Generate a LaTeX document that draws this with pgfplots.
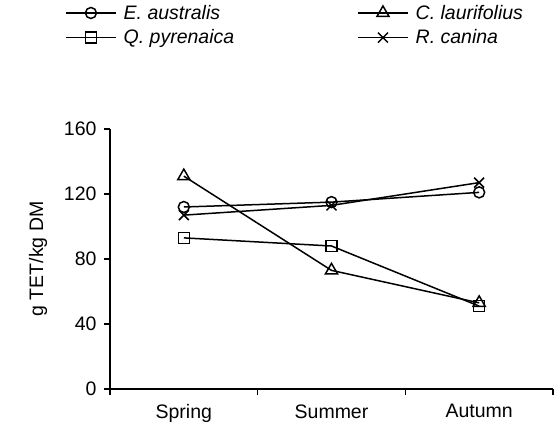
\documentclass[border=0pt]{standalone}
\usepackage{fontspec}
\setmainfont{Liberation Sans}
\usepackage{pgfplots}
\pgfplotsset{compat=1.18}
\begin{document}
\begin{tikzpicture}
\useasboundingbox (-110bp,-47bp) rectangle (448bp,389bp);
\begin{axis}[
  at={(0,0)}, anchor=origin,
  scale only axis, width=443bp, height=260bp,
  xmin=0, xmax=3, ymin=0, ymax=160,
  axis x line*=bottom, axis y line*=left,
  axis line style={line width=1.5bp, -},
  every tick/.style={line width=1.5bp, black},
  ytick={0,40,80,120,160},
  tick align=outside,
  major tick length=6bp,
  xtick={0,1,2,3},
  x tick label as interval,
  xticklabels={Spring,Summer,Autumn},
  font=\fontsize{19.5bp}{22bp}\selectfont,
  tick label style={font=\fontsize{19.5bp}{22bp}\selectfont},
  /pgf/number format/assume math mode=true,
  ylabel={g TET/kg DM},
  ylabel style={font=\fontsize{19.5bp}{22bp}\selectfont},
  every axis y label/.style={at={(-72bp,130bp)}, rotate=90, anchor=center},
  xticklabel style={yshift=-6bp},
  yticklabel style={xshift=-4bp},
  legend columns=2,
  legend style={draw=none, fill=none, at={(-48bp,388bp)}, anchor=north west,
    font=\fontsize{19.5bp}{22bp}\selectfont\itshape,
    /tikz/every odd column/.append style={column sep=5bp},
    /tikz/every even column/.append style={column sep=121bp},
    row sep=5bp},
  legend cell align=left,
  legend image code/.code={
    \draw[#1, mark repeat=2, mark phase=2] plot coordinates {(0bp,0bp) (25bp,0bp) (50bp,0bp)};
  },
]
\addplot[black, line width=1.5bp, mark=o, mark size=5.5bp, mark options={solid, fill=white, line width=1.5bp}] coordinates {(0.5,112) (1.5,115) (2.5,121)};
\addlegendentry{E. australis}
\addplot[black, line width=1.5bp, mark=triangle, mark size=7bp, mark options={solid, fill=white, line width=1.5bp}] coordinates {(0.5,131) (1.5,73) (2.5,53)};
\addlegendentry{C. laurifolius}
\addplot[black, line width=1.5bp, mark=square, mark size=5.5bp, mark options={solid, fill=white, line width=1.5bp}] coordinates {(0.5,93) (1.5,88) (2.5,51)};
\addlegendentry{Q. pyrenaica}
\addplot[black, line width=1.5bp, mark=x, mark size=7bp, mark options={solid, line width=1.5bp}] coordinates {(0.5,107) (1.5,113) (2.5,127)};
\addlegendentry{R. canina}
\end{axis}
\end{tikzpicture}
\end{document}
